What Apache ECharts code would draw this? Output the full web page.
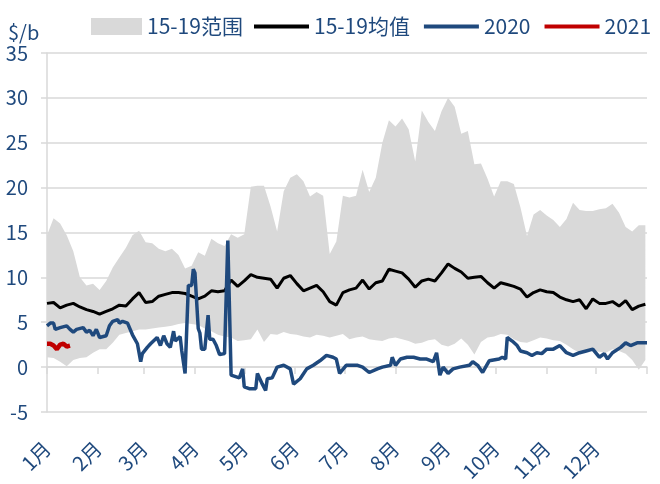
<!DOCTYPE html>
<html>
<head>
<meta charset="utf-8">
<script src="https://cdn.jsdelivr.net/npm/echarts@6/dist/echarts.min.js"></script>
<style>
html,body{margin:0;padding:0;background:#fff;}
#chart{width:660px;height:484px;}
</style>
</head>
<body>
<div id="chart"></div>
<script>
// ---- data ----
const days = [0,4,8,12,16,20,24,28,32,36,40,44,48,52,56,60,64,68,72,76,80,84,88,92,96,100,104,108,112,116,120,124,128,132,136,140,144,148,152,156,160,164,168,172,176,180,184,188,192,196,200,204,208,212,216,220,224,228,232,236,240,244,248,252,256,260,264,268,272,276,280,284,288,292,296,300,304,308,312,316,320,324,328,332,336,340,344,348,352,356,360,364];
const rangeHigh = [14.7,16.6,16.0,14.7,12.9,10.0,9.1,9.3,8.6,9.6,
  11.1,12.2,13.3,14.7,15.2,13.9,13.8,13.2,12.9,13.2,
  12.5,11.0,11.3,12.8,12.4,14.3,13.8,13.5,14.8,14.4,
  14.8,20.1,20.2,20.2,17.9,15.1,19.6,21.1,21.5,20.7,
  19.0,19.5,19.1,12.6,14.0,19.1,18.9,19.1,22.0,19.5,
  21.1,25.0,27.5,26.8,27.7,26.5,22.9,28.6,27.3,26.3,
  28.5,30.0,29.0,26.0,26.3,22.6,22.7,21.0,19.0,20.7,
  20.7,20.4,17.8,14.6,17.0,17.5,16.9,16.4,15.6,16.5,
  18.3,17.5,17.4,17.4,17.6,17.7,18.2,17.2,15.6,15.1,
  15.8,15.8];
const rangeLow = [1.1,1.0,0.6,0.1,0.8,1.0,1.1,1.6,2.0,2.0,
  2.7,3.6,3.8,4.0,4.2,4.2,4.3,4.4,4.5,4.6,
  4.8,4.9,4.8,4.7,4.3,4.0,3.6,3.4,3.3,2.9,
  3.0,3.1,4.2,2.8,3.7,3.6,3.9,3.7,3.6,3.4,
  3.3,3.6,3.5,3.3,3.5,3.7,3.1,3.3,3.4,3.1,
  3.0,2.9,3.2,3.3,3.1,2.9,2.6,2.7,3.0,3.1,
  2.5,2.3,2.6,3.2,2.5,1.4,2.8,3.3,3.4,3.7,
  3.6,3.1,2.8,2.7,3.0,3.3,3.2,3.0,2.9,2.5,
  2.0,1.6,1.8,1.8,1.7,1.6,2.0,1.8,1.5,0.8,
  -0.3,0.8];
const mean1519 = [7.1,7.2,6.6,6.9,7.1,6.7,6.4,6.2,5.9,6.2,
  6.5,6.9,6.8,7.6,8.3,7.2,7.3,7.9,8.1,8.3,
  8.3,8.2,7.9,7.6,7.9,8.5,8.4,8.5,9.7,9.0,
  9.6,10.3,10.0,9.9,9.8,8.8,9.9,10.2,9.3,8.5,
  8.8,9.1,8.4,7.3,6.9,8.3,8.6,8.8,9.7,8.7,
  9.4,9.6,10.9,10.7,10.5,9.8,8.9,9.6,9.8,9.6,
  10.5,11.5,11.0,10.6,9.9,10.0,10.1,9.4,8.8,9.4,
  9.2,9.0,8.7,7.8,8.3,8.6,8.4,8.3,7.8,7.5,
  7.3,7.5,6.5,7.6,7.1,7.1,7.3,6.8,7.4,6.4,
  6.8,7.0];
const blueDays = [0,2,4,5,8,12,14,16,18,22,24,26,28,30,32,36,38,40,43,44,
  46,49,50,52,55,57,58,61,63,64,67,69,71,73,75,77,78,79,81,82,
  84,86,88,89,90,92,93,94,96,98,99,101,103,105,108,110,112,117,119,120,
  123,127,128,131,133,134,137,140,144,148,150,154,158,162,166,170,174,176,178,182,
  189,192,196,201,204,209,210,212,215,219,223,227,231,235,237,239,241,244,247,251,
  257,259,262,265,269,275,277,279,280,283,286,288,292,295,298,301,304,308,312,316,
  320,324,328,332,336,339,341,344,349,352,355,359,365];
const y2020 = [4.6,4.9,4.9,4.2,4.4,4.6,4.2,3.9,4.2,4.4,3.9,4.1,3.5,4.2,3.3,3.5,4.6,5.1,5.3,4.9,
  5.1,4.9,4.9,3.6,2.6,0.6,1.5,2.2,2.6,2.4,3.3,2.4,3.5,2.6,2.2,4.0,2.9,3.1,3.4,1.8,
  -0.7,9.1,9.1,10.9,10.5,4.3,3.8,2.0,2.0,5.8,3.1,3.1,2.4,1.4,1.5,14.1,-0.9,-1.2,-0.2,-2.2,
  -2.4,-2.4,-0.7,-1.9,-2.6,-1.3,-1.2,0.0,0.2,-0.2,-1.9,-1.3,-0.2,0.2,0.7,1.3,1.1,0.9,-0.7,0.2,
  0.2,0.0,-0.6,-0.2,0.0,0.2,1.1,0.2,0.9,1.1,1.1,0.9,0.9,0.6,1.6,-0.9,0.0,-0.7,-0.2,0.0,
  0.2,0.6,0.2,-0.6,0.7,0.9,1.1,0.9,3.3,2.9,2.4,1.8,1.6,1.3,1.6,1.5,2.0,2.0,2.4,1.6,
  1.3,1.6,1.8,2.0,1.1,1.5,0.9,1.6,2.2,2.7,2.4,2.7,2.7];
const redDays = [0,2,4,6,8,10,12,14];
const y2021 = [2.6,2.6,2.4,2.0,2.5,2.6,2.3,2.4];
const monthStarts = [0,31,59,90,120,151,181,212,243,273,304,334];
const monthTicks = [0,31,59,90,120,151,181,212,243,273,304,334,365];
const monthLabels = ['1月','2月','3月','4月','5月','6月','7月','8月','9月','10月','11月','12月'];
const yTicks = {min:-5, max:35, step:5};

// ---- build ----
const pair = (xs, ys) => xs.map((d, i) => [d, ys[i]]);
const FONT = '"Noto Sans CJK SC", "Noto Sans", sans-serif';
const TXT = '#1F497D';
const GRID = '#d9d9d9';

const bandData = days.map((d, i) => [d, rangeLow[i], rangeHigh[i]]);

function renderBand(params, api) {
  if (params.dataIndex !== 0) return null;
  const top = days.map((d, i) => api.coord([d, rangeHigh[i]]));
  const bot = days.map((d, i) => api.coord([d, rangeLow[i]])).reverse();
  return {
    type: 'polygon',
    shape: {points: top.concat(bot)},
    style: {fill: GRID, stroke: null}
  };
}

const chart = echarts.init(document.getElementById('chart'), null, {renderer: 'canvas'});
chart.setOption({
  animation: false,
  textStyle: {fontFamily: FONT},
  grid: {left: 47, right: 13, top: 53, bottom: 66, containLabel: false},
  graphic: [{type: 'text', left: 8, top: 22, style: {text: '$/b', fill: TXT, font: '20px ' + FONT}}],
  legend: [{
    left: 91, top: 16, itemWidth: 51, itemHeight: 17, padding: 0,
    textStyle: {fontSize: 21, color: TXT, fontFamily: FONT},
    data: [{name: '15-19范围', icon: 'rect', itemStyle: {color: GRID}}]
  }, {
    left: 254, top: 16, itemWidth: 55, itemHeight: 4, itemGap: 14, padding: 0,
    textStyle: {fontSize: 21, color: TXT, fontFamily: FONT},
    data: [
      {name: '15-19均值', icon: 'rect', itemStyle: {color: '#000'}},
      {name: '2020', icon: 'rect', itemStyle: {color: '#1F497D'}},
      {name: '2021', icon: 'rect', itemStyle: {color: '#C00000'}}
    ]
  }],
  xAxis: [{
    type: 'value', min: 0, max: 365,
    axisLine: {show: true, onZero: true, lineStyle: {color: GRID, width: 1.5}},
    axisTick: {show: true, length: 7, lineStyle: {color: GRID, width: 1.5}, customValues: monthTicks},
    axisLabel: {show: false},
    splitLine: {show: false}
  }, {
    type: 'value', min: 0, max: 365, position: 'bottom',
    axisLine: {show: false, onZero: false},
    axisTick: {show: false},
    splitLine: {show: false},
    axisLabel: {
      show: true, rotate: 45, margin: 33, fontSize: 20, color: TXT, fontFamily: FONT,
      customValues: monthStarts,
      formatter: v => monthLabels[monthStarts.indexOf(v)]
    }
  }],
  yAxis: {
    type: 'value', min: yTicks.min, max: yTicks.max, interval: yTicks.step,
    axisLine: {show: true, onZero: false, lineStyle: {color: GRID, width: 1.5}},
    axisTick: {show: true, length: 6, lineStyle: {color: GRID, width: 1.5}},
    axisLabel: {fontSize: 20, color: TXT, margin: 19, fontFamily: FONT},
    splitLine: {show: true, lineStyle: {color: GRID, width: 1.5}}
  },
  series: [
    {name: '15-19范围', type: 'custom', coordinateSystem: 'cartesian2d',
     xAxisIndex: 0, yAxisIndex: 0,
     itemStyle: {color: GRID}, renderItem: renderBand,
     encode: {x: 0, y: [1, 2]}, data: bandData, silent: true, z: 1},
    {name: '15-19均值', type: 'line', symbol: 'none', itemStyle: {color: '#000'},
     lineStyle: {color: '#000', width: 3}, data: pair(days, mean1519), z: 3},
    {name: '2020', type: 'line', symbol: 'none', itemStyle: {color: '#1F497D'},
     lineStyle: {color: '#1F497D', width: 3.5}, data: pair(blueDays, y2020), z: 4},
    {name: '2021', type: 'line', symbol: 'none', itemStyle: {color: '#C00000'},
     lineStyle: {color: '#C00000', width: 4.5}, data: pair(redDays, y2021), z: 5}
  ]
});
</script>
</body>
</html>
